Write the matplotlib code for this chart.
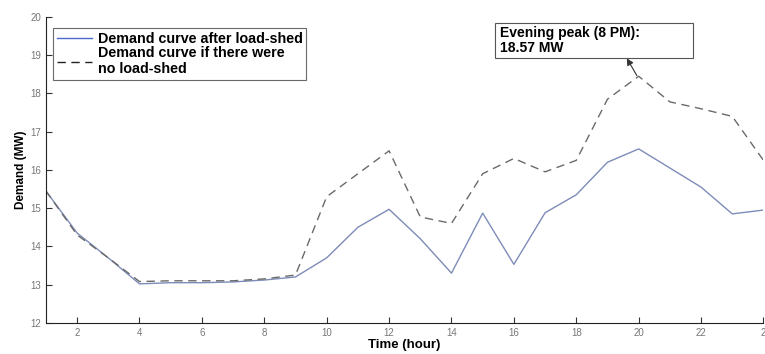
import matplotlib.pyplot as plt
from matplotlib.patches import Rectangle
import numpy as np

# hourly demand (MW)
hours = np.arange(1, 25)
after_shed = [15.45, 14.35, 13.7, 13.02, 13.05, 13.05, 13.07, 13.12, 13.2, 13.7, 14.5, 14.97,
              14.2, 13.3, 14.87, 13.53, 14.88, 15.35, 16.2, 16.55, 16.05, 15.55, 14.85, 14.95]
no_shed = [15.45, 14.3, 13.7, 13.08, 13.1, 13.1, 13.1, 13.15, 13.25, 15.3, 15.9, 16.5,
           14.77, 14.6, 15.9, 16.3, 15.95, 16.25, 17.85, 18.45, 17.78, 17.6, 17.4, 16.25]

plt.rcParams['font.family'] = ['Liberation Sans', 'DejaVu Sans']

fig = plt.figure(figsize=(7.65, 3.54), dpi=100)
ax = fig.add_axes([0.060, 0.088, 0.938, 0.864])

ax.plot(hours, after_shed, color='#7d8cb8', linewidth=1.0, label='Demand curve after load-shed')
ax.plot(hours, no_shed, color='#6a6a6a', linewidth=1.0, linestyle=(0, (6, 4)),
        label='Demand curve if there were\nno load-shed')

ax.set_xlim(1, 24)
ax.set_ylim(12, 20)
ax.set_xticks(range(2, 25, 2))
ax.set_yticks(range(12, 21))
ax.set_xticklabels(['2', '4', '6', '8', '10', '12', '14', '16', '18', '20', '22', '2'])
ax.tick_params(direction='in', length=4, labelsize=7, colors='#333333', labelcolor='#777777')
ax.spines['top'].set_visible(False)
ax.spines['right'].set_visible(False)
ax.spines['left'].set_color('#222222')
ax.spines['bottom'].set_color('#222222')

ax.set_xlabel('Time (hour)', fontsize=9.5, fontweight='bold', labelpad=1)
ax.set_ylabel('Demand (MW)', fontsize=8.5, fontweight='bold', labelpad=2)

leg = ax.legend(loc='upper left', bbox_to_anchor=(0.0098, 0.964), borderaxespad=0,
                fontsize=10.3, frameon=True, fancybox=False, edgecolor='#444444',
                handlelength=2.5, borderpad=0.25, labelspacing=0.05, handletextpad=0.4)
leg.get_frame().set_linewidth(0.8)
for t in leg.get_texts():
    t.set_fontweight('bold')
leg.get_lines()[1].set_color('#222222')
leg.get_lines()[0].set_color('#4a6ad0')

# annotation box and arrow
ax.add_patch(Rectangle((15.39, 18.93), 6.35, 0.91, fill=True, fc='white', ec='#555555',
                       lw=0.8, clip_on=False, zorder=5))
ax.text(15.55, 19.38, 'Evening peak (8 PM):\n18.57 MW', fontsize=10, fontweight='bold',
        va='center', ha='left', zorder=6, linespacing=1.05)
ax.annotate('', xy=(19.62, 18.92), xytext=(19.94, 18.47),
            arrowprops=dict(arrowstyle='-|>', color='#333333', lw=0.8,
                            shrinkA=0, shrinkB=0, mutation_scale=10))

fig.savefig('out.png', dpi=100)
